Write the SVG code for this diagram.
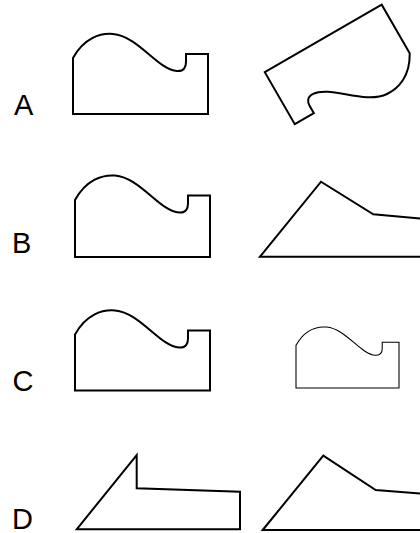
<svg xmlns="http://www.w3.org/2000/svg" width="420" height="533" viewBox="0 0 420 533">
  <style>
    .shape { fill: #ffffff; stroke: #000000; stroke-width: 2; stroke-linejoin: miter; }
    .thin { stroke-width: 1.4; }
    .label { font-family: "Liberation Sans", Arial, sans-serif; font-size: 29px; fill: #000000; }
  </style>
  <defs>
    <path id="profile" d="M73,58 C84,38 100,33 113,34 C138,36 158,70 177,71 C184,71.5 186,67 186,62 L186,54 L208,54 L208,114 L73,114 Z"/>
  </defs>
  <rect width="420" height="533" fill="#ffffff"/>

  <g id="row-A">
    <text class="label" x="14" y="115">A</text>
    <g id="A-left"><use href="#profile" class="shape"/></g>
    <g id="A-right"><use href="#profile" class="shape" transform="translate(381.7,4.7) rotate(150) translate(-73,-114)"/></g>
  </g>

  <g id="row-B">
    <text class="label" x="12" y="253">B</text>
    <g id="B-left"><path class="shape" d="M75,200 C86,180 102,174.5 115,175.5 C140,177.5 160,211.5 179,212.5 C186,213 188,208.5 188,203.5 L188,195.5 L210,195.5 L210,257 L75,257 Z"/></g>
    <g id="B-right"><path class="shape" d="M260,256.7 L321,181.7 L373.3,214.3 L430,219.5 L430,256.7 Z"/></g>
  </g>

  <g id="row-C">
    <text class="label" x="12.5" y="390.5">C</text>
    <g id="C-left"><use href="#profile" class="shape" transform="translate(2,276.5)"/></g>
    <g id="C-right"><use href="#profile" class="shape thin" transform="translate(296,342.3) scale(0.763) translate(-73,-54)"/></g>
  </g>

  <g id="row-D">
    <text class="label" x="12" y="528.5">D</text>
    <g id="D-left"><path class="shape" d="M76.7,529.3 L136.7,455 L136.7,488.3 L240,491.7 L240,529.3 Z"/></g>
    <g id="D-right"><path class="shape" d="M262.7,530 L323.3,455.7 L375.7,490 L432,494.5 L432,530 Z"/></g>
  </g>
</svg>
